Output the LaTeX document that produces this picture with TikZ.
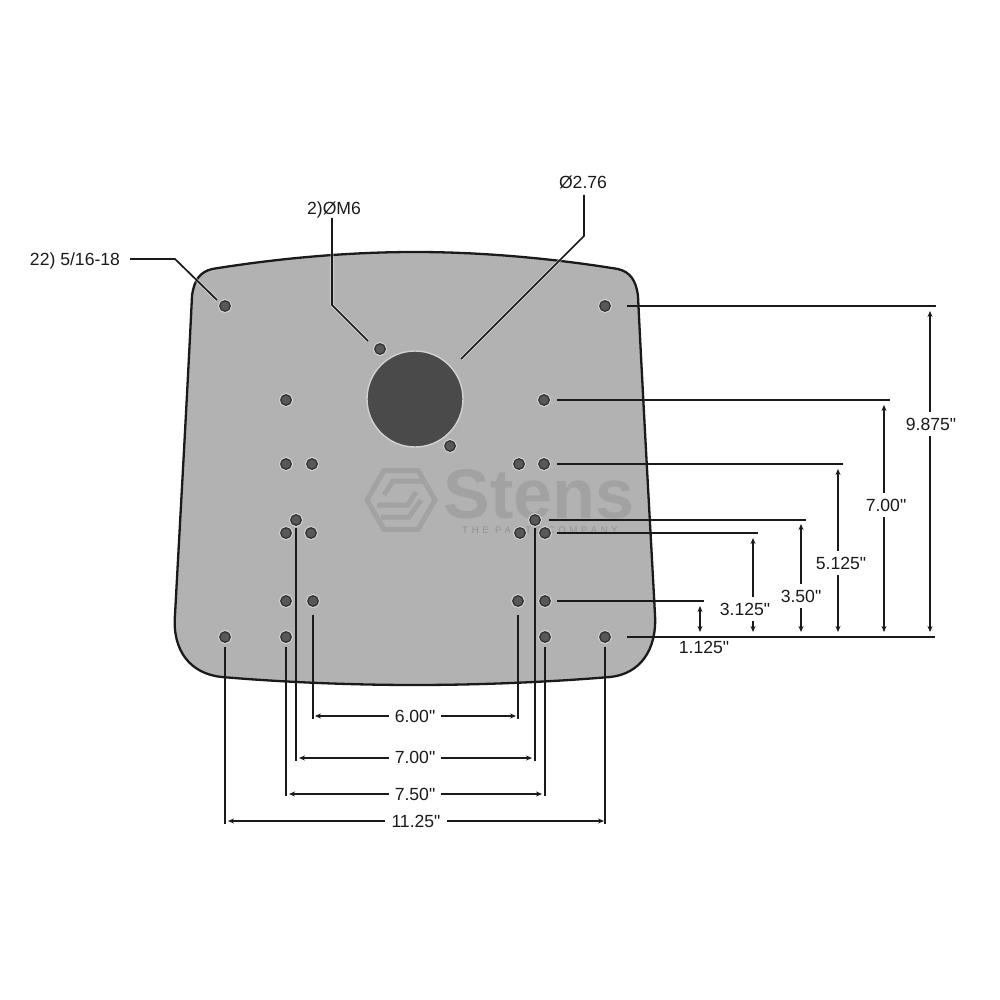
\documentclass[tikz,border=0pt]{standalone}
\usepackage{fontspec}
\setmainfont{Liberation Sans}[Ligatures=TeXOff]
\newfontfamily\spacedfont[LetterSpace=40]{Liberation Sans}
\usetikzlibrary{arrows.meta,shapes.geometric}
\definecolor{plategray}{HTML}{B2B2B2}
\definecolor{markgray}{HTML}{A2A2A2}
\definecolor{holegray}{HTML}{585858}
\definecolor{boregray}{HTML}{4A4A4A}
\definecolor{inkblack}{HTML}{1A1A1A}
\tikzset{
	hole/.style={shape=circle,draw=black!80,line width=1.3pt,fill=holegray,inner sep=0pt,minimum size=10.5pt,preaction={draw=white!40!plategray,line width=3.6pt}},
	leader/.style={draw=inkblack,line width=1.7pt,preaction={draw=white,draw opacity=.45,line width=3.4pt}},
	dimline/.style={draw=inkblack,line width=1.1pt,-{Stealth[length=6pt,width=5pt]}},
	dimtext/.style={font=\fontsize{17.6}{17.6}\selectfont,text=inkblack,inner sep=6pt,text height=12.5pt,text depth=0pt},
}
\begin{document}
\begin{tikzpicture}[x=1pt,y=-1pt]
	\useasboundingbox (0,0) rectangle (1000,1000);

	\fill[plategray] (192,296) .. controls (194,280) and (200,272) .. (212,269) .. controls (280,258) and (350,252) .. (415,252) .. controls (480,252) and (550,258) .. (618,269) .. controls (630,272) and (636,280) .. (638,296) .. controls (643,400) and (651,540) .. (655,615) .. controls (657,650) and (640,674) .. (610,677) .. controls (550,682) and (480,685) .. (415,685) .. controls (350,685) and (280,682) .. (222,677) .. controls (190,674) and (172,650) .. (175,615) .. controls (179,540) and (187,400) .. (192,296) -- cycle;

	\node[shape=regular polygon,regular polygon sides=6,draw=markgray,line width=5pt,minimum size=68pt,inner sep=0pt] (logo) at (401,500) {};
	\draw[markgray,line width=5pt] (384,495) -- (393,481) -- (423,481);
	\draw[markgray,line width=5pt] (377,505) -- (408,505) -- (416,492);
	\draw[markgray,line width=5pt] (421,500) -- (409,517) -- (381,517);
	\node[text=markgray,font=\fontsize{70}{70}\selectfont\bfseries,inner sep=0pt,text height=48pt,text depth=0pt] (brand) at (539,494) {Stens};
	\node[text=markgray!90!black,font=\fontsize{9.5}{9.5}\spacedfont,inner sep=0pt] (slogan) at (540,530) {THE PARTS COMPANY};

	\node[shape=circle,fill=boregray,draw=white!40!plategray,line width=1.4pt,minimum size=96pt,inner sep=0pt] (bore) at (415,399) {};

	\node[hole] (tl) at (225,306) {};
	\node[hole] (tr) at (605,306) {};
	\node[hole] (ma) at (380,349) {};
	\node[hole] (mb) at (450,446) {};
	\node[hole] (a1) at (286,400) {};
	\node[hole] (a2) at (544,400) {};
	\node[hole] (b1) at (286,464) {};
	\node[hole] (b2) at (312,464) {};
	\node[hole] (b3) at (519,464) {};
	\node[hole] (b4) at (544,464) {};
	\node[hole] (c1) at (296,520) {};
	\node[hole] (c2) at (535,520) {};
	\node[hole] (d1) at (286,533) {};
	\node[hole] (d2) at (311,533) {};
	\node[hole] (d3) at (520,533) {};
	\node[hole] (d4) at (545,533) {};
	\node[hole] (e1) at (286,601) {};
	\node[hole] (e2) at (313,601) {};
	\node[hole] (e3) at (518,601) {};
	\node[hole] (e4) at (545,601) {};
	\node[hole] (bl) at (225,637) {};
	\node[hole] (f1) at (286,637) {};
	\node[hole] (f2) at (545,637) {};
	\node[hole] (br) at (605,637) {};

	\coordinate (xtr) at (936,306);
	\coordinate (xa2) at (890,400);
	\coordinate (xb4) at (843,464);
	\coordinate (xc2) at (806,520);
	\coordinate (xd4) at (758,533);
	\coordinate (xe4) at (704,601);
	\coordinate (xbr) at (935,637);
	\path[leader] (tr) edge [shorten <=16pt] (xtr);
	\path[leader] (a2) edge [shorten <=7pt] (xa2);
	\path[leader] (b4) edge [shorten <=7pt] (xb4);
	\path[leader] (c2) edge [shorten <=8pt] (xc2);
	\path[leader] (d4) edge [shorten <=6pt] (xd4);
	\path[leader] (e4) edge [shorten <=6pt] (xe4);
	\path[leader] (br) edge [shorten <=16pt] (xbr);

	\coordinate (ye2) at (313,719);
	\coordinate (ye3) at (518,719);
	\coordinate (yc1) at (296,761);
	\coordinate (yc2) at (535,761);
	\coordinate (yf1) at (286,796);
	\coordinate (yf2) at (545,796);
	\coordinate (ybl) at (225,824);
	\coordinate (ybr) at (605,824);
	\path[leader] (e2) edge [shorten <=8pt] (ye2);
	\path[leader] (e3) edge [shorten <=8pt] (ye3);
	\path[leader] (c1) edge [shorten <=2pt] (yc1);
	\path[leader] (c2) edge [shorten <=2pt] (yc2);
	\path[leader] (f1) edge [shorten <=4pt] (yf1);
	\path[leader] (f2) edge [shorten <=4pt] (yf2);
	\path[leader] (bl) edge [shorten <=4pt] (ybl);
	\path[leader] (br) edge [shorten <=4pt] (ybr);

	\draw[inkblack,line width=2.3pt,line join=round] (192,296) .. controls (194,280) and (200,272) .. (212,269) .. controls (280,258) and (350,252) .. (415,252) .. controls (480,252) and (550,258) .. (618,269) .. controls (630,272) and (636,280) .. (638,296) .. controls (643,400) and (651,540) .. (655,615) .. controls (657,650) and (640,674) .. (610,677) .. controls (550,682) and (480,685) .. (415,685) .. controls (350,685) and (280,682) .. (222,677) .. controls (190,674) and (172,650) .. (175,615) .. controls (179,540) and (187,400) .. (192,296) -- cycle;

	\node[dimtext,inner sep=0pt] (boltlabel) at (75,259) {22) 5/16-18};
	\node[dimtext,inner sep=0pt] (pinlabel) at (334,208) {2)ØM6};
	\node[dimtext,inner sep=0pt] (borelabel) at (583,182) {Ø2.76};
	\coordinate (bolta) at (130,259);
	\coordinate (boltb) at (175,259);
	\coordinate (bolte) at (217,300);
	\coordinate (pina) at (332,218);
	\coordinate (pinb) at (332,305);
	\coordinate (pine) at (368,341);
	\coordinate (borea) at (584,195);
	\coordinate (boreb) at (584,236);
	\coordinate (boree) at (461,359);
	\draw[leader] (bolta) -- (boltb) -- (bolte);
	\draw[leader] (pina) -- (pinb) -- (pine);
	\draw[leader] (borea) -- (boreb) -- (boree);

	\node[dimtext] (h600) at (415,716) {6.00"};
	\node[dimtext] (h700) at (415,757) {7.00"};
	\node[dimtext] (h750) at (415,794) {7.50"};
	\node[dimtext] (h1125) at (416,821) {11.25"};
	\coordinate (h600l) at (315,716);
	\coordinate (h600r) at (516,716);
	\coordinate (h700l) at (299,758);
	\coordinate (h700r) at (532,758);
	\coordinate (h750l) at (289,794);
	\coordinate (h750r) at (542,794);
	\coordinate (h1125l) at (228,821);
	\coordinate (h1125r) at (604,821);
	\draw[dimline] (h600l -| h600.west) -- (h600l);
	\draw[dimline] (h600r -| h600.east) -- (h600r);
	\draw[dimline] (h700l -| h700.west) -- (h700l);
	\draw[dimline] (h700r -| h700.east) -- (h700r);
	\draw[dimline] (h750l -| h750.west) -- (h750l);
	\draw[dimline] (h750r -| h750.east) -- (h750r);
	\draw[dimline] (h1125l -| h1125.west) -- (h1125l);
	\draw[dimline] (h1125r -| h1125.east) -- (h1125r);

	\node[dimtext] (v9875) at (931,424) {9.875"};
	\node[dimtext] (v700) at (886,505) {7.00"};
	\node[dimtext] (v5125) at (841,563) {5.125"};
	\node[dimtext] (v350) at (801,596) {3.50"};
	\node[dimtext] (v3125) at (745,609) {3.125"};
	\node[dimtext,inner sep=0pt] (v1125) at (704,647) {1.125"};
	\coordinate (v9875t) at (930,311);
	\coordinate (v9875b) at (930,632);
	\coordinate (v700t) at (884,405);
	\coordinate (v700b) at (884,632);
	\coordinate (v5125t) at (838,469);
	\coordinate (v5125b) at (838,632);
	\coordinate (v350t) at (801,524);
	\coordinate (v350b) at (801,632);
	\coordinate (v3125t) at (753,538);
	\coordinate (v3125b) at (753,632);
	\coordinate (v1125t) at (700,606);
	\coordinate (v1125b) at (700,632);
	\draw[dimline] (v9875t |- v9875.north) -- (v9875t);
	\draw[dimline] (v9875b |- v9875.south) -- (v9875b);
	\draw[dimline] (v700t |- v700.north) -- (v700t);
	\draw[dimline] (v700b |- v700.south) -- (v700b);
	\draw[dimline] (v5125t |- v5125.north) -- (v5125t);
	\draw[dimline] (v5125b |- v5125.south) -- (v5125b);
	\draw[dimline] (v350t |- v350.north) -- (v350t);
	\draw[dimline] (v350b |- v350.south) -- (v350b);
	\draw[dimline] (v3125t |- v3125.north) -- (v3125t);
	\draw[dimline] (v3125b |- v3125.south) -- (v3125b);
	\draw[dimline,{Stealth[length=6pt,width=5pt]}-{Stealth[length=6pt,width=5pt]}] (v1125t) -- (v1125b);
\end{tikzpicture}
\end{document}
